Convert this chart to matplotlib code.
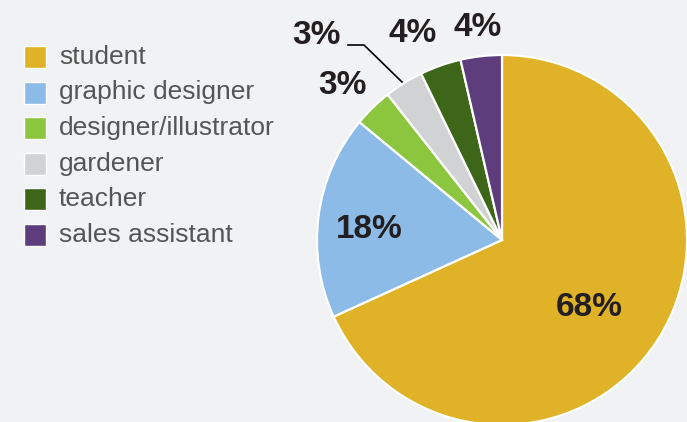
import matplotlib.pyplot as plt
from matplotlib.patches import Rectangle

jobs = ['student', 'graphic designer', 'designer/illustrator', 'gardener', 'teacher', 'sales assistant']
shares = [68.2, 17.8, 3.4, 3.4, 3.6, 3.6]
colors = ['#e0b227', '#8bbbe6', '#8cc63f', '#d1d2d4', '#3d6619', '#5e3d7d']

# label spots in pixels (x, y from top)
label_pos = [(589, 307), (369, 230), (342, 86), (316, 35), (413, 33), (478, 28)]

W, H = 687, 422
bg = '#f1f2f4'
plt.rcParams['font.family'] = ['Liberation Sans', 'DejaVu Sans']

fig = plt.figure(figsize=(W / 100, H / 100), dpi=100, facecolor=bg)
ax = fig.add_axes([0, 0, 1, 1])
ax.set_facecolor(bg)
ax.axis('off')

wedges, _ = ax.pie(shares, colors=colors, startangle=90, counterclock=False,
                   center=(502, H - 240), radius=185,
                   wedgeprops=dict(edgecolor='white', linewidth=1.6))
ax.set_xlim(0, W)
ax.set_ylim(0, H)
ax.set_aspect('equal')

for v, (px, py) in zip(shares, label_pos):
    ax.text(px, H - py, f'{round(v)}%', ha='center', va='center', fontsize=24,
            fontweight='bold', color='#231f20')

# leader line for gardener
ax.plot([348, 364, 402], [H - 45, H - 45, H - 82], color='black', lw=1.2)

# legend
for i, (name, c) in enumerate(zip(jobs, colors)):
    y = 57 + i * 35.5
    ax.add_patch(Rectangle((24, H - y - 11), 22, 22, facecolor=c, edgecolor='white', lw=1))
    ax.text(59, H - y, name, ha='left', va='center', fontsize=19, color='#555555')

fig.savefig('out.png', dpi=100, facecolor=bg)
